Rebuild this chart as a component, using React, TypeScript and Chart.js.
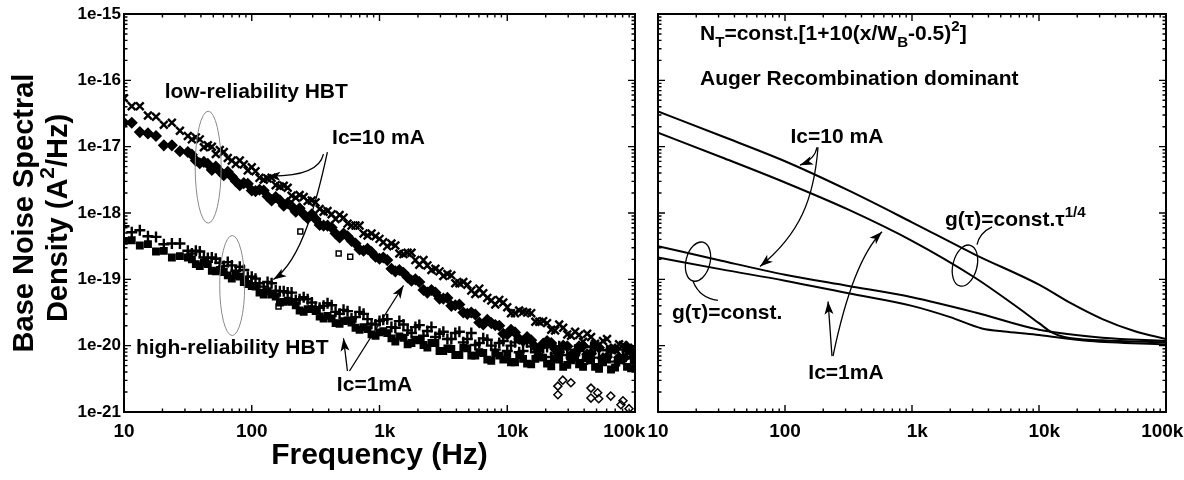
import React, { useEffect, useRef } from 'react';
import { Chart, registerables } from 'chart.js';
Chart.register(...registerables);

const FONT = '"Liberation Sans", Arial, Helvetica, sans-serif';

// ---------- tick labels ----------
const xTickValues = [10, 100, 1000, 10000, 100000];
const xTickLabels = ['10', '100', '1k', '10k', '100k'];
const yTickValues = [1e-21, 1e-20, 1e-19, 1e-18, 1e-17, 1e-16, 1e-15];
const yTickLabels = ['1e-21', '1e-20', '1e-19', '1e-18', '1e-17', '1e-16', '1e-15'];

const freqHz = [10, 11.5, 13.3, 15.4, 17.8, 20.5, 23.7, 27.4, 31.6, 36.5, 42.2, 48.7, 56.2, 64.9, 75, 86.6,
  100, 115, 133, 154, 178, 205, 237, 274, 316, 365, 422, 487, 562, 649, 750, 866,
  1000, 1150, 1330, 1540, 1780, 2050, 2370, 2740, 3160, 3650, 4220, 4870, 5620, 6490, 7500, 8660,
  10000, 11500, 13300, 15400, 17800, 20500, 23700, 27400, 31600, 36500, 42200, 48700, 56200, 64900, 75000, 86600, 100000];
// second sweep (denser readings above ~30 Hz)
const freqHzMid = [34, 39.2, 45.3, 52.3, 60.4, 69.8, 80.6, 93.1,
  107, 124, 143, 166, 191, 221, 255, 295, 340, 392, 453, 523, 604, 698, 806, 931,
  1070, 1240, 1430, 1660, 1910, 2210, 2550, 2950, 3400, 3920, 4530, 5230, 6040, 6980, 8060, 9310,
  10700, 12400, 14300, 16600, 19100, 22100, 25500, 29500, 34000, 39200, 45300, 52300, 60400, 69800, 80600, 93100];

const lowRelUpperLog = [-16.27, -16.39, -16.39, -16.53, -16.55, -16.67, -16.64, -16.76,
  -16.84, -16.86, -17.01, -17.00, -17.05, -17.17, -17.26, -17.27,
  -17.31, -17.47, -17.48, -17.58, -17.59, -17.74, -17.73, -17.82,
  -17.84, -17.98, -18.02, -18.03, -18.16, -18.19, -18.31, -18.31,
  -18.39, -18.50, -18.49, -18.62, -18.60, -18.78, -18.79, -18.84,
  -18.95, -18.94, -19.06, -19.08, -19.22, -19.21, -19.32, -19.31,
  -19.42, -19.51, -19.49, -19.51, -19.64, -19.66, -19.77, -19.73,
  -19.85, -19.84, -19.82, -19.97, -19.93, -20.06, -19.98, -20.10, -20.06];
const lowRelUpperMidLog = [-16.89, -16.89, -16.98, -17.11, -17.08, -17.21, -17.21, -17.36,
  -17.37, -17.50, -17.47, -17.60, -17.62, -17.77, -17.76, -17.81,
  -17.94, -17.97, -18.09, -18.07, -18.19, -18.19, -18.34, -18.35,
  -18.44, -18.46, -18.61, -18.60, -18.71, -18.71, -18.86, -18.88,
  -18.92, -19.06, -19.04, -19.17, -19.14, -19.28, -19.38, -19.35,
  -19.51, -19.47, -19.50, -19.64, -19.63, -19.76, -19.68, -19.83,
  -19.79, -19.94, -19.87, -19.99, -19.90, -20.05, -19.99, -20.14];

const lowRelLowerLog = [-16.64, -16.64, -16.78, -16.80, -16.84, -16.98, -16.98, -17.07,
  -17.08, -17.21, -17.23, -17.35, -17.37, -17.38, -17.52, -17.55,
  -17.66, -17.65, -17.75, -17.76, -17.89, -17.90, -17.93, -18.08,
  -18.09, -18.19, -18.22, -18.37, -18.35, -18.46, -18.57, -18.59,
  -18.69, -18.71, -18.88, -18.90, -19.02, -19.04, -19.20, -19.20,
  -19.29, -19.40, -19.38, -19.52, -19.53, -19.68, -19.66, -19.70,
  -19.83, -19.80, -19.93, -19.92, -20.04, -19.93, -20.05, -20.00,
  -20.14, -20.01, -20.13, -20.00, -20.19, -20.05, -20.18, -20.02, -20.18];
const lowRelLowerMidLog = [-17.12, -17.25, -17.26, -17.30, -17.43, -17.45, -17.58, -17.56,
  -17.67, -17.66, -17.81, -17.81, -17.85, -17.98, -18.02, -18.02,
  -18.18, -18.19, -18.31, -18.31, -18.42, -18.55, -18.54, -18.66,
  -18.67, -18.84, -18.86, -18.97, -19.00, -19.16, -19.16, -19.29,
  -19.28, -19.39, -19.50, -19.50, -19.65, -19.61, -19.69, -19.82,
  -19.76, -19.90, -19.87, -20.02, -19.97, -19.96, -20.10, -20.01,
  -20.11, -20.00, -20.12, -20.03, -20.17, -20.05, -20.20, -20.05];
const lowRelLowerOutFreq = [24900, 24900, 27200, 31500, 45200, 45200, 51000, 52000, 64600, 77600, 80500, 89700];
const lowRelLowerOutLog = [-20.61, -20.74, -20.52, -20.56, -20.64, -20.79, -20.71, -20.80, -20.76, -20.89, -20.83, -20.95];

const highRelUpperLog = [-18.20, -18.29, -18.26, -18.35, -18.36, -18.47, -18.46, -18.46,
  -18.57, -18.57, -18.67, -18.67, -18.75, -18.74, -18.87, -18.86,
  -18.96, -19.06, -19.04, -19.17, -19.18, -19.20, -19.30, -19.30,
  -19.42, -19.40, -19.39, -19.52, -19.48, -19.57, -19.52, -19.67,
  -19.63, -19.60, -19.73, -19.68, -19.81, -19.69, -19.78, -19.87,
  -19.79, -19.90, -19.79, -19.90, -19.99, -19.89, -20.00, -19.96,
  -20.08, -19.95, -20.08, -20.01, -20.14, -20.02, -20.12, -20.02,
  -20.18, -20.08, -20.21, -20.03, -20.19, -20.07, -20.23, -20.09, -20.19];
const highRelUpperMidLog = [-18.61, -18.58, -18.68, -18.69, -18.80, -18.79, -18.81, -18.96,
  -18.99, -19.11, -19.06, -19.18, -19.20, -19.31, -19.27, -19.35,
  -19.43, -19.36, -19.49, -19.46, -19.59, -19.49, -19.60, -19.68,
  -19.61, -19.72, -19.63, -19.77, -19.72, -19.85, -19.72, -19.82,
  -19.90, -19.81, -19.95, -19.81, -19.96, -19.91, -20.06, -19.93,
  -20.00, -20.10, -19.95, -20.10, -20.03, -20.17, -20.01, -20.14,
  -20.06, -20.22, -20.02, -20.18, -20.07, -20.24, -20.06, -20.19];

const highRelLowerLog = [-18.42, -18.41, -18.49, -18.47, -18.58, -18.57, -18.67, -18.65,
  -18.67, -18.77, -18.75, -18.87, -18.86, -18.94, -18.94, -19.04,
  -19.10, -19.20, -19.18, -19.26, -19.34, -19.34, -19.47, -19.45,
  -19.48, -19.59, -19.59, -19.67, -19.62, -19.73, -19.72, -19.83,
  -19.80, -19.81, -19.94, -19.88, -19.96, -19.92, -20.03, -19.96,
  -20.08, -20.05, -20.14, -20.04, -20.15, -20.11, -20.23, -20.15,
  -20.15, -20.25, -20.20, -20.28, -20.16, -20.27, -20.20, -20.32,
  -20.22, -20.28, -20.19, -20.32, -20.25, -20.36, -20.22, -20.32, -20.23];
const highRelLowerMidLog = [-18.70, -18.80, -18.77, -18.88, -18.89, -18.99, -18.96, -19.07,
  -19.11, -19.23, -19.23, -19.35, -19.32, -19.39, -19.49, -19.45,
  -19.56, -19.55, -19.66, -19.63, -19.65, -19.76, -19.75, -19.85,
  -19.78, -19.89, -19.86, -19.98, -19.91, -19.99, -19.96, -20.08,
  -20.04, -20.14, -20.03, -20.15, -20.10, -20.21, -20.11, -20.21,
  -20.25, -20.14, -20.27, -20.20, -20.18, -20.31, -20.21, -20.29,
  -20.18, -20.32, -20.22, -20.35, -20.21, -20.33, -20.19, -20.34];
const highRelLowerOutFreq = [162, 240, 479, 590];
const highRelLowerOutLog = [-19.41, -18.28, -18.61, -18.66];

// ---------- right panel: simulation curves (log10 values) ----------
const sim10mAConstF = [10, 31.6, 100, 316, 1000, 3160, 10000, 17800, 31600, 56200, 100000];
const sim10mAConstLog = [-16.47, -16.84, -17.22, -17.66, -18.14, -18.63, -19.08, -19.36, -19.60, -19.78, -19.90];
const sim10mATauF = [10, 31.6, 100, 316, 1000, 3160, 6310, 10000, 12600, 15800, 31600, 100000];
const sim10mATauLog = [-16.79, -17.16, -17.54, -17.95, -18.42, -18.98, -19.38, -19.66, -19.80, -19.87, -19.92, -19.95];
const sim1mAConstF = [10, 31.6, 100, 316, 1000, 3160, 10000, 31600, 100000];
const sim1mAConstLog = [-18.50, -18.72, -18.93, -19.10, -19.27, -19.50, -19.76, -19.88, -19.93];
const sim1mATauF = [10, 31.6, 100, 316, 1000, 2000, 3550, 5620, 10000, 25100, 100000];
const sim1mATauLog = [-18.67, -18.85, -19.02, -19.21, -19.40, -19.57, -19.74, -19.79, -19.84, -19.93, -19.98];

const toPts = (f: number[], lg: number[]) => f.map((x, i) => ({ x, y: Math.pow(10, lg[i]) }));

type Seg = [string, 'n' | 'sub' | 'sup'];
type PX = (lf: number, lv: number) => [number, number];

function drawRich(ctx: any, segs: Seg[], x: number, cy: number, size: number, align: 'left' | 'center') {
  const small = size * 0.72;
  const fontFor = (k: string) => `bold ${k === 'n' ? size : small}px ${FONT}`;
  let total = 0;
  const widths = segs.map(([t, k]) => { ctx.font = fontFor(k); const w = ctx.measureText(t).width; total += w; return w; });
  let cx = align === 'center' ? x - total / 2 : x;
  const base = cy + size * 0.36;
  ctx.textAlign = 'left';
  ctx.textBaseline = 'alphabetic';
  segs.forEach(([t, k], i) => {
    ctx.font = fontFor(k);
    const dy = k === 'sub' ? size * 0.3 : k === 'sup' ? -size * 0.45 : 0;
    ctx.fillText(t, cx, base + dy);
    cx += widths[i];
  });
}

function curve(ctx: any, pts: [number, number][], head: boolean, L = 13, W = 4.5) {
  ctx.beginPath();
  ctx.moveTo(pts[0][0], pts[0][1]);
  if (pts.length === 2) ctx.lineTo(pts[1][0], pts[1][1]);
  else if (pts.length === 3) ctx.quadraticCurveTo(pts[1][0], pts[1][1], pts[2][0], pts[2][1]);
  else ctx.bezierCurveTo(pts[1][0], pts[1][1], pts[2][0], pts[2][1], pts[3][0], pts[3][1]);
  ctx.stroke();
  if (head) {
    const e = pts[pts.length - 1], p = pts[pts.length - 2];
    const a = Math.atan2(e[1] - p[1], e[0] - p[0]);
    const c = Math.cos(a), s = Math.sin(a);
    ctx.beginPath();
    ctx.moveTo(e[0], e[1]);
    ctx.lineTo(e[0] - L * c + W * s, e[1] - L * s - W * c);
    ctx.lineTo(e[0] - L * 0.75 * c, e[1] - L * 0.75 * s);
    ctx.lineTo(e[0] - L * c - W * s, e[1] - L * s + W * c);
    ctx.closePath();
    ctx.fill();
  }
}

function ellipse(ctx: any, c: [number, number], rx: number, ry: number, rot: number) {
  ctx.beginPath();
  ctx.ellipse(c[0], c[1], rx, ry, rot, 0, Math.PI * 2);
  ctx.stroke();
}

function decoPlugin(drawAnn: (ctx: any, px: PX, chart: any) => void, lastLabelShift: number) {
  return {
    id: 'deco',
    afterDraw(chart: any) {
      const ctx = chart.ctx;
      const { left, right, top, bottom } = chart.chartArea;
      const xs = chart.scales.x, ys = chart.scales.y;
      ctx.save();
      ctx.strokeStyle = '#000';
      ctx.lineWidth = 1.4;
      const marks = (scale: any, cb: (p: number, major: boolean) => void) => {
        const lo = Math.floor(Math.log10(scale.min) + 1e-9), hi = Math.ceil(Math.log10(scale.max) - 1e-9);
        for (let d = lo; d <= hi; d++) for (let k = 1; k <= 9; k++) {
          const v = k * Math.pow(10, d);
          if (v < scale.min * 0.999 || v > scale.max * 1.001) continue;
          cb(scale.getPixelForValue(v), k === 1);
        }
      };
      ctx.beginPath();
      marks(xs, (x, major) => { const L = major ? 7 : 3.5; ctx.moveTo(x, bottom); ctx.lineTo(x, bottom - L); ctx.moveTo(x, top); ctx.lineTo(x, top + L); });
      marks(ys, (y, major) => { const L = major ? 7 : 3.5; ctx.moveTo(left, y); ctx.lineTo(left + L, y); ctx.moveTo(right, y); ctx.lineTo(right - L, y); });
      ctx.stroke();
      ctx.lineWidth = 2;
      ctx.strokeRect(left, top, right - left, bottom - top);
      // x tick labels: numeric part centred on the tick, the "k" hanging to the right
      ctx.fillStyle = '#000';
      ctx.font = `bold 19px ${FONT}`;
      ctx.textAlign = 'left';
      ctx.textBaseline = 'middle';
      xTickValues.forEach((v, i) => {
        const lab = xTickLabels[i];
        const wNum = ctx.measureText(lab.replace(/k$/, '')).width;
        let x0 = xs.getPixelForValue(v) - wNum / 2;
        if (i === xTickValues.length - 1) x0 -= lastLabelShift;
        ctx.fillText(lab, x0, bottom + 20);
      });
      const px: PX = (lf, lv) => [xs.getPixelForValue(Math.pow(10, lf)), ys.getPixelForValue(Math.pow(10, lv))];
      drawAnn(ctx, px, chart);
      ctx.restore();
    },
  };
}

function text(ctx: any, s: string, p: [number, number], size: number, align: 'left' | 'center') {
  ctx.font = `bold ${size}px ${FONT}`;
  ctx.textAlign = align;
  ctx.textBaseline = 'middle';
  ctx.fillText(s, p[0], p[1]);
}

function drawLeftAnn(ctx: any, px: PX, chart: any) {
  const { left, right, top, bottom } = chart.chartArea;
  const S = 21;
  text(ctx, 'low-reliability HBT', px(2.035, -16.184), S, 'center');
  text(ctx, 'Ic=10 mA', px(2.992, -16.874), S, 'center');
  text(ctx, 'high-reliability HBT', px(1.847, -20.037), S, 'center');
  text(ctx, 'Ic=1mA', px(2.961, -20.592), S, 'center');
  ctx.strokeStyle = '#8a8a8a';
  ctx.lineWidth = 1;
  ellipse(ctx, px(1.659, -17.309), 13, 56, 0);
  ellipse(ctx, px(1.847, -19.093), 12.5, 50, 0);
  ctx.strokeStyle = '#000';
  ctx.lineWidth = 1.3;
  curve(ctx, [px(2.561, -17.114), px(2.522, -17.459), px(2.122, -17.444)], true);
  curve(ctx, [px(2.592, -17.084), px(2.522, -17.714), px(2.396, -18.718), px(2.169, -19.003)], true);
  curve(ctx, [px(2.749, -20.382), px(2.718, -19.888)], true);
  curve(ctx, [px(2.765, -20.382), px(3.188, -19.093)], true);
  // axis titles
  ctx.font = `bold 30px ${FONT}`;
  ctx.textAlign = 'center';
  ctx.textBaseline = 'middle';
  ctx.fillText('Frequency (Hz)', (left + right) / 2, 456);
  const cy = (top + bottom) / 2;
  ctx.save();
  ctx.translate(23, cy);
  ctx.rotate(-Math.PI / 2);
  drawRich(ctx, [['Base Noise Spectral', 'n']], 0, 0, 29, 'center');
  ctx.restore();
  ctx.save();
  ctx.translate(57, cy + 5);
  ctx.rotate(-Math.PI / 2);
  drawRich(ctx, [['Density (A', 'n'], ['2', 'sup'], ['/Hz)', 'n']], 0, 0, 29, 'center');
  ctx.restore();
}

function drawRightAnn(ctx: any, px: PX) {
  const S = 21;
  let p = px(1.331, -15.285);
  drawRich(ctx, [['N', 'n'], ['T', 'sub'], ['=const.[1+10(x/W', 'n'], ['B', 'sub'], ['-0.5)', 'n'], ['2', 'sup'], [']', 'n']], p[0], p[1], S, 'left');
  text(ctx, 'Auger Recombination dominant', px(1.331, -15.99), S, 'left');
  text(ctx, 'Ic=10 mA', px(2.409, -16.859), S, 'center');
  text(ctx, 'Ic=1mA', px(2.480, -20.412), S, 'center');
  p = px(3.26, -18.088);
  drawRich(ctx, [['g(\u03c4)=const.\u03c4', 'n'], ['1/4', 'sup']], p[0], p[1], S, 'left');
  text(ctx, 'g(\u03c4)=const.', px(1.110, -19.513), S, 'left');
  ctx.strokeStyle = '#000';
  ctx.lineWidth = 1.3;
  ellipse(ctx, px(1.315, -18.733), 12, 20, 0.25);
  ellipse(ctx, px(3.417, -18.793), 12, 21, 0.25);
  curve(ctx, [px(3.512, -18.478), px(3.53, -18.3), px(3.63, -18.208)], false);
  curve(ctx, [px(1.276, -19.033), px(1.331, -19.288), px(1.472, -19.318)], false);
  curve(ctx, [px(2.252, -17.009), px(2.236, -17.189), px(2.118, -17.279)], true);
  curve(ctx, [px(2.26, -17.009), px(2.228, -17.789), px(2.118, -18.313), px(1.803, -18.808)], true);
  curve(ctx, [px(2.37, -20.157), px(2.339, -19.333)], true);
  curve(ctx, [px(2.378, -20.157), px(2.472, -19.288), px(2.591, -18.613), px(2.764, -18.283)], true);
}

function axes(showYLabels: boolean, yWidth: number) {
  const tickFontY = { family: FONT, size: 17, weight: 'bold' as const };
  return {
    x: {
      type: 'logarithmic' as const, min: 10, max: 100000,
      grid: { display: false, drawTicks: false }, border: { display: false },
      afterBuildTicks: (s: any) => { s.ticks = xTickValues.map((value) => ({ value })); },
      ticks: { display: false },
      afterFit: (s: any) => { s.height = 68; s.paddingLeft = 0; s.paddingRight = 0; },
    },
    y: {
      type: 'logarithmic' as const, min: 1e-21, max: 1e-15,
      grid: { display: false, drawTicks: false }, border: { display: false },
      afterBuildTicks: (s: any) => { s.ticks = yTickValues.map((value) => ({ value })); },
      ticks: { display: showYLabels, callback: (_v: any, i: number) => yTickLabels[i], font: tickFontY, color: '#000', padding: 3, autoSkip: false },
      afterFit: (s: any) => { s.width = yWidth; s.paddingTop = 0; s.paddingBottom = 0; },
    },
  };
}

export default function App() {
  const leftRef = useRef<HTMLCanvasElement>(null);
  const rightRef = useRef<HTMLCanvasElement>(null);

  useEffect(() => {
    const pointDs = (data: any[], style: string, r: number, bw: number, fill: string) => ({
      data, showLine: false, pointStyle: style, pointRadius: r, pointBorderWidth: bw,
      pointBorderColor: '#000', pointBackgroundColor: fill,
    });
    const left = new Chart(leftRef.current as HTMLCanvasElement, {
      type: 'scatter',
      data: {
        datasets: [
          pointDs(toPts(freqHz, lowRelUpperLog).concat(toPts(freqHzMid, lowRelUpperMidLog)), 'crossRot', 5.5, 2.4, 'rgba(0,0,0,0)'),
          pointDs(toPts(freqHz, lowRelLowerLog).concat(toPts(freqHzMid, lowRelLowerMidLog)), 'rectRot', 5, 1.5, '#000'),
          pointDs(toPts(lowRelLowerOutFreq, lowRelLowerOutLog), 'rectRot', 4, 1.5, 'rgba(0,0,0,0)'),
          pointDs(toPts(freqHz, highRelUpperLog).concat(toPts(freqHzMid, highRelUpperMidLog)), 'cross', 5.5, 2.4, 'rgba(0,0,0,0)'),
          pointDs(toPts(freqHz, highRelLowerLog).concat(toPts(freqHzMid, highRelLowerMidLog)), 'rect', 4.5, 1.5, '#000'),
          pointDs(toPts(highRelLowerOutFreq, highRelLowerOutLog), 'rect', 3.5, 1.5, 'rgba(0,0,0,0)'),
        ] as any,
      },
      options: {
        responsive: false, animation: false, events: [],
        layout: { padding: { top: 14, right: 25, left: 0, bottom: 0 } },
        plugins: { legend: { display: false }, tooltip: { enabled: false } },
        scales: axes(true, 124) as any,
      },
      plugins: [decoPlugin(drawLeftAnn, 16)],
    } as any);

    const lineDs = (f: number[], lg: number[]) => ({
      data: toPts(f, lg), borderColor: '#000', borderWidth: 2, pointRadius: 0,
      cubicInterpolationMode: 'monotone', fill: false,
    });
    const right = new Chart(rightRef.current as HTMLCanvasElement, {
      type: 'line',
      data: {
        datasets: [
          lineDs(sim10mAConstF, sim10mAConstLog),
          lineDs(sim10mATauF, sim10mATauLog),
          lineDs(sim1mAConstF, sim1mAConstLog),
          lineDs(sim1mATauF, sim1mATauLog),
        ] as any,
      },
      options: {
        responsive: false, animation: false, events: [],
        layout: { padding: { top: 14, right: 18, left: 0, bottom: 0 } },
        plugins: { legend: { display: false }, tooltip: { enabled: false } },
        scales: axes(false, 18) as any,
      },
      plugins: [decoPlugin((ctx, px) => drawRightAnn(ctx, px), 9)],
    } as any);

    return () => { left.destroy(); right.destroy(); };
  }, []);

  return (
    <div style={{ position: 'absolute', left: 0, top: 0, width: 1184, height: 480, background: '#fff', overflow: 'hidden' }}>
      <canvas ref={leftRef} width={660} height={480} style={{ position: 'absolute', left: 0, top: 0 }} />
      <canvas ref={rightRef} width={544} height={480} style={{ position: 'absolute', left: 640, top: 0 }} />
    </div>
  );
}
